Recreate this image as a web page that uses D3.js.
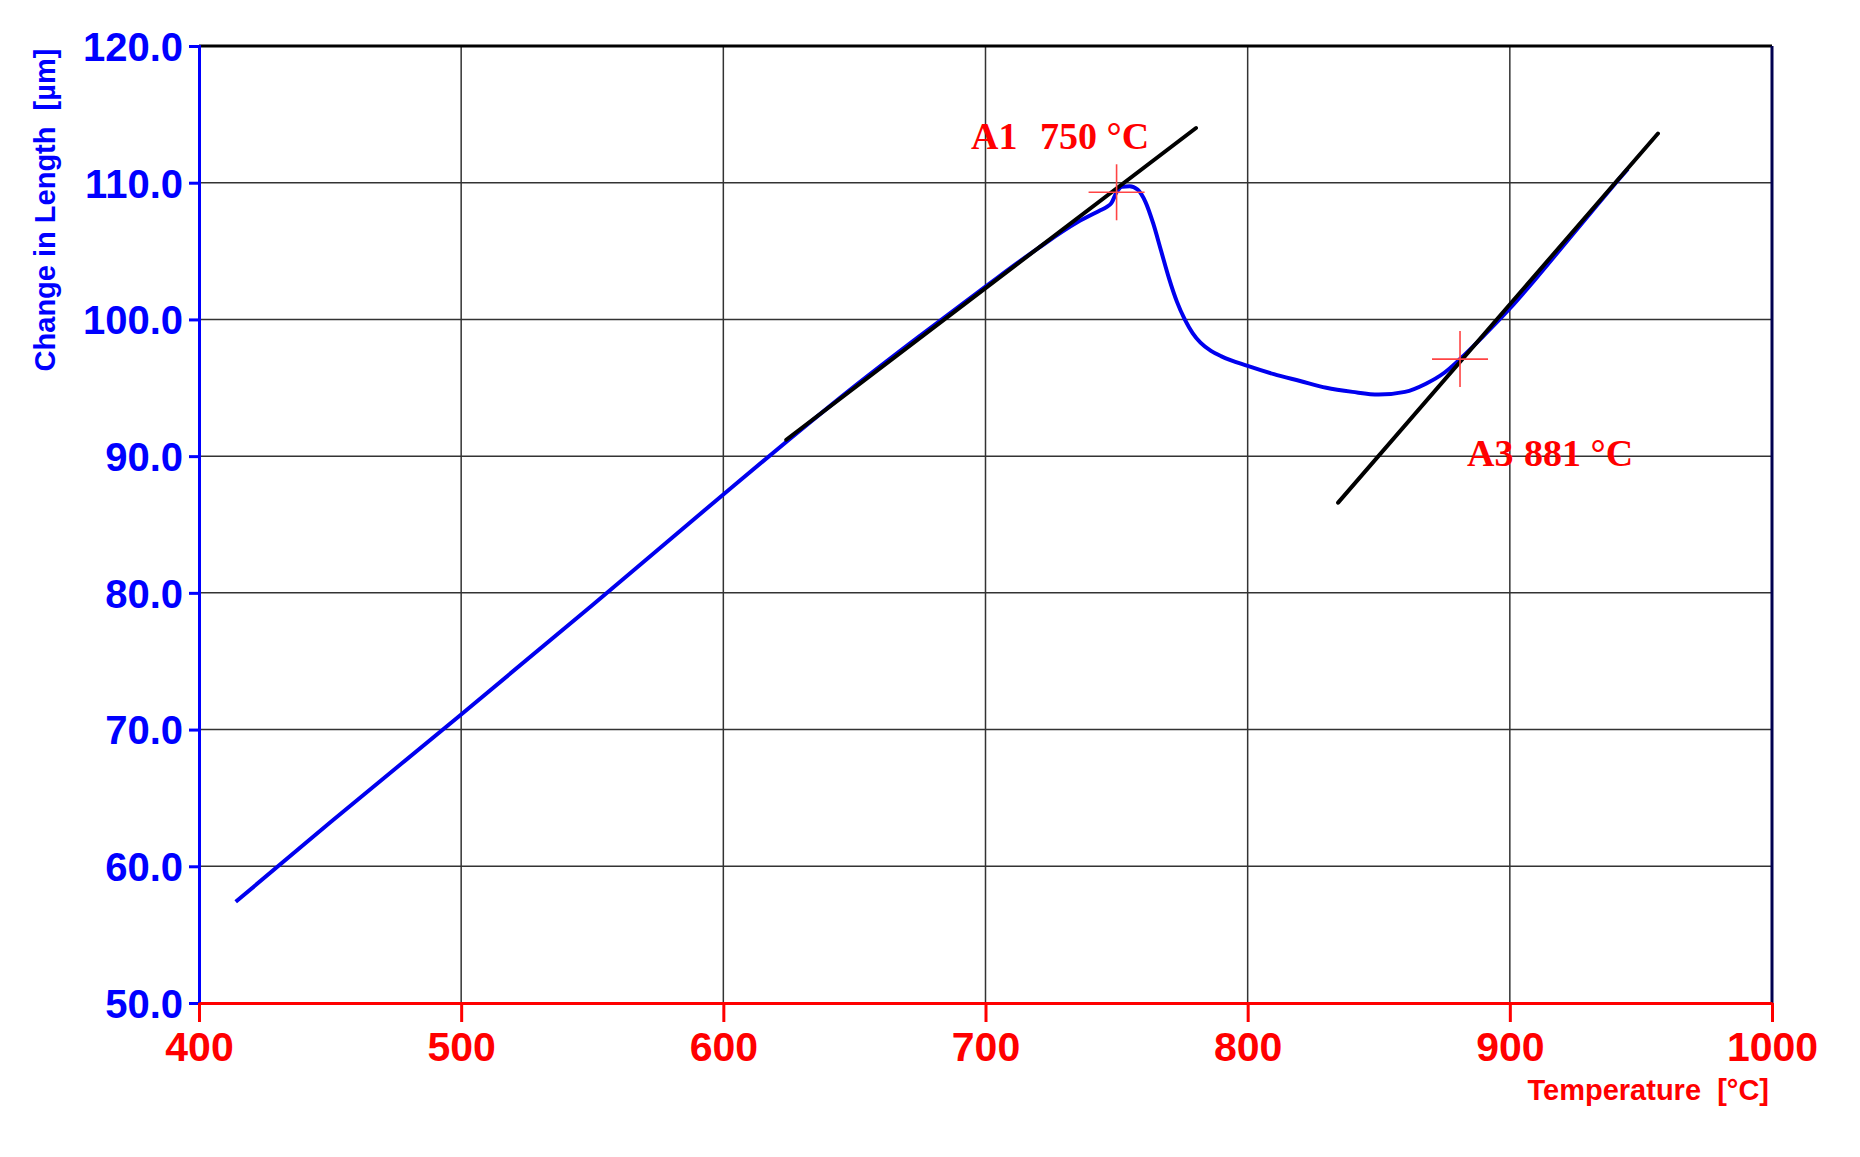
<!DOCTYPE html>
<html><head><meta charset="utf-8">
<script src="https://cdn.jsdelivr.net/npm/d3@7"></script>
<style>body{margin:0;background:#fff}svg{display:block}text{white-space:pre}</style>
</head><body>
<svg id="c" width="1860" height="1157"></svg>
<script>
// data
const temps = [414,450,500,550,600,625,650,675,700,720,735,744,746,748,750,752,755,758,761,764,767,770,773,776,779,782,786,790,800,810,820,830,840,850,860,868,875,881,890,900,910,920,930,940,945];
const lengths = [57.4,63.2,71.1,79.1,87.2,91.2,95.1,98.8,102.4,105.2,107.1,108.0,108.2,108.5,109.3,109.7,109.75,109.5,108.6,107.0,105.0,103.0,101.3,100.0,99.0,98.3,97.7,97.3,96.6,96.0,95.5,95.0,94.7,94.5,94.7,95.3,96.1,97.1,98.8,100.8,103.0,105.3,107.6,109.9,111.0];
const tangent1 = [[624,91.2],[780.3,114.0]];
const tangent2 = [[834.5,86.6],[956.5,113.6]];
const markers = [{t:750,v:109.3},{t:881,v:97.1}];
const xTicks = [400,500,600,700,800,900,1000];
const yTicks = [50,60,70,80,90,100,110,120];

const svg = d3.select('#c');
const L=199, T=46, W=1573, H=957;
const x = d3.scaleLinear().domain([400,1000]).range([L,L+W]);
const y = d3.scaleLinear().domain([50,120]).range([T+H,T]);

// grid
svg.append('g').selectAll('line').data(xTicks.slice(1,-1)).join('line')
  .attr('x1',d=>x(d)).attr('x2',d=>x(d)).attr('y1',T).attr('y2',T+H)
  .attr('stroke','#333').attr('stroke-width',1.5);
svg.append('g').selectAll('line').data(yTicks.slice(1,-1)).join('line')
  .attr('x1',L).attr('x2',L+W).attr('y1',d=>y(d)).attr('y2',d=>y(d))
  .attr('stroke','#333').attr('stroke-width',1.5);

// frame top/right
svg.append('line').attr('x1',L).attr('x2',L+W).attr('y1',T).attr('y2',T).attr('stroke','#000').attr('stroke-width',3);
svg.append('line').attr('x1',L+W).attr('x2',L+W).attr('y1',T).attr('y2',T+H).attr('stroke','#000050').attr('stroke-width',3);

// axes
const ya = svg.append('g').attr('transform',`translate(${L},0)`)
  .call(d3.axisLeft(y).tickValues(yTicks).tickFormat(d3.format('.1f')).tickSize(10).tickPadding(6));
ya.selectAll('path,line').attr('stroke','#0000ff').attr('stroke-width',3);
ya.selectAll('text').attr('fill','#0000ff').attr('font-family','Liberation Sans, Arial, sans-serif')
  .attr('font-weight','bold').attr('font-size',40).attr('dy','0.36em');

const xa = svg.append('g').attr('transform',`translate(0,${T+H})`)
  .call(d3.axisBottom(x).tickValues(xTicks).tickFormat(d3.format('d')).tickSize(19).tickSizeOuter(0));
xa.selectAll('path,line').attr('stroke','#ff0000').attr('stroke-width',3);
xa.selectAll('text').attr('fill','#ff0000').attr('font-family','Liberation Sans, Arial, sans-serif')
  .attr('font-weight','bold').attr('font-size',41)
  .attr('y',58).attr('dy',0);

// axis titles
svg.append('text').attr('transform','translate(55,210) rotate(-90)').attr('text-anchor','middle')
  .attr('fill','#0000ff').attr('font-family','Liberation Sans, Arial, sans-serif').attr('font-weight','bold')
  .attr('font-size',29).text('Change in Length  [µm]');
svg.append('text').attr('x',1769).attr('y',1100).attr('text-anchor','end')
  .attr('fill','#ff0000').attr('font-family','Liberation Sans, Arial, sans-serif').attr('font-weight','bold')
  .attr('font-size',29).text('Temperature  [°C]');

// curve
const line = d3.line().x(d=>x(d[0])).y(d=>y(d[1])).curve(d3.curveMonotoneX);
svg.append('path').datum(temps.map((t,i)=>[t,lengths[i]])).attr('d',line)
  .attr('fill','none').attr('stroke','#0000ee').attr('stroke-width',4).attr('stroke-linejoin','round');

// tangents
const sl = d3.line().x(d=>x(d[0])).y(d=>y(d[1]));
[tangent1,tangent2].forEach(tg=>svg.append('path').datum(tg).attr('d',sl)
  .attr('fill','none').attr('stroke','#000').attr('stroke-width',4).attr('stroke-linecap','round'));

// markers
markers.forEach(m=>{
  const cx=x(m.t), cy=y(m.v);
  svg.append('line').attr('x1',cx-28).attr('x2',cx+28).attr('y1',cy).attr('y2',cy).attr('stroke','#ff4444').attr('stroke-width',1.6);
  svg.append('line').attr('x1',cx).attr('x2',cx).attr('y1',cy-28).attr('y2',cy+28).attr('stroke','#ff4444').attr('stroke-width',1.6);
});

// annotations
const ann = [{s:'A1',x:971,y:149},{s:'750 °C',x:1040,y:149},{s:'A3',x:1467,y:466},{s:'881 °C',x:1524,y:466}];
svg.append('g').selectAll('text').data(ann).join('text')
  .attr('x',d=>d.x).attr('y',d=>d.y).attr('fill','#ff0000')
  .attr('font-family','Liberation Serif, Times New Roman, serif').attr('font-weight','bold')
  .attr('font-size',38).text(d=>d.s);
</script>
</body></html>
